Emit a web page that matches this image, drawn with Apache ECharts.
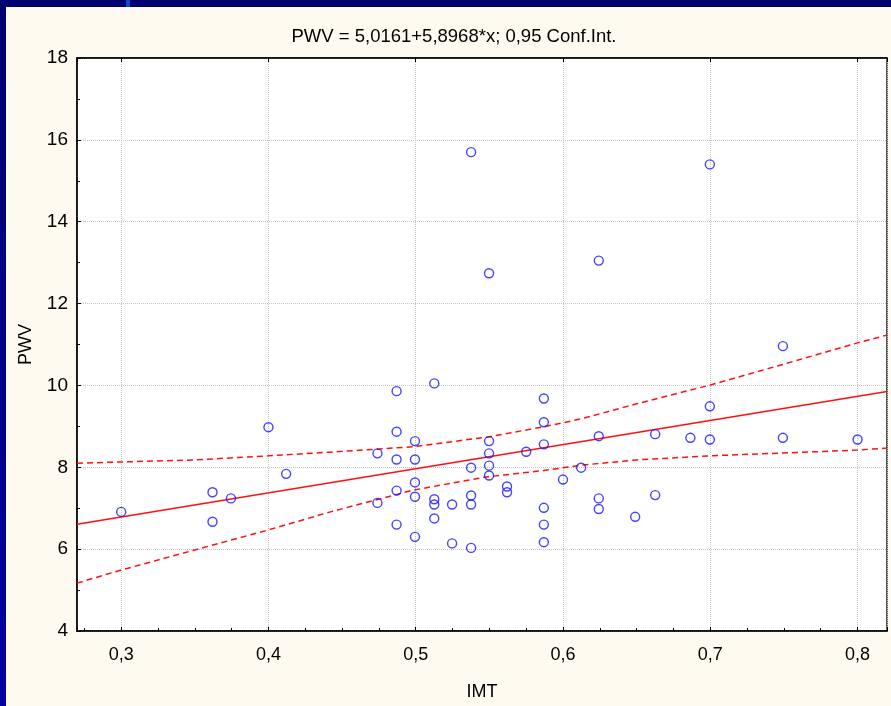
<!DOCTYPE html>
<html>
<head>
<meta charset="utf-8">
<script src="https://cdn.jsdelivr.net/npm/echarts@6/dist/echarts.min.js"></script>
<style>
html,body{margin:0;padding:0;background:#000072;}
#chart{width:891px;height:706px;}
</style>
</head>
<body>
<div id="chart"></div>
<script>
// ---- data ----
const titleText = 'PWV = 5,0161+5,8968*x; 0,95 Conf.Int.';
const xName = 'IMT';
const yName = 'PWV';

const imt = [0.300, 0.362, 0.362, 0.3745, 0.400, 0.412,
  0.474, 0.474, 0.487, 0.487, 0.487, 0.487, 0.487,
  0.4995, 0.4995, 0.4995, 0.4995, 0.4995,
  0.5126, 0.5126, 0.5126, 0.5126, 0.5247, 0.5247,
  0.5376, 0.5376, 0.5376, 0.5376, 0.5376,
  0.5498, 0.5498, 0.5498, 0.5498, 0.5498,
  0.562, 0.562, 0.575,
  0.587, 0.587, 0.587, 0.587, 0.587, 0.587,
  0.600, 0.6123,
  0.6243, 0.6243, 0.6243, 0.6243,
  0.649, 0.6626, 0.6626, 0.6865,
  0.6997, 0.6997, 0.6997,
  0.7493, 0.7493, 0.800];
const pwv = [6.91, 7.39, 6.67, 7.24, 8.98, 7.84,
  8.34, 7.13, 9.86, 8.87, 8.19, 7.43, 6.60,
  8.64, 8.19, 7.63, 7.28, 6.30,
  10.05, 7.22, 7.09, 6.75, 7.09, 6.14,
  15.70, 7.99, 7.31, 7.09, 6.03,
  12.74, 8.64, 8.34, 8.04, 7.80,
  7.53, 7.39, 8.38,
  9.68, 9.10, 8.56, 7.01, 6.60, 6.17,
  7.70, 7.99,
  13.05, 8.76, 7.24, 6.98,
  6.79, 8.81, 7.32, 8.72,
  15.40, 9.49, 8.68,
  10.96, 8.72, 8.68];

const fitX = [0.27, 0.82];
const fitY = [6.61, 9.85];

const bandX = [0.27, 0.30, 0.35, 0.40, 0.442, 0.498, 0.549, 0.587, 0.612, 0.65, 0.70, 0.75, 0.80, 0.82];
const bandUpper = [8.10, 8.13, 8.18, 8.28, 8.37, 8.50, 8.74, 8.99, 9.18, 9.55, 10.01, 10.52, 11.04, 11.23];
const bandLower = [5.17, 5.49, 5.98, 6.47, 6.91, 7.44, 7.77, 7.92, 8.05, 8.18, 8.28, 8.35, 8.42, 8.47];

const xMin = 0.27, xMax = 0.82;
const yMin = 4, yMax = 18, yStep = 2;

// ---- build ----
const zip = (a, b) => a.map((v, i) => [v, b[i]]);
const fmt = v => v.toFixed(1).replace('.', ',');
const FONT = '"Liberation Sans", Arial, sans-serif';

const chart = echarts.init(document.getElementById('chart'), null, {renderer: 'canvas'});
chart.setOption({
  animation: false,
  backgroundColor: '#000072',
  graphic: [
    {type: 'rect', left: 0, top: 0, z: -10, shape: {width: 6, height: 706},
      style: {fill: new echarts.graphic.LinearGradient(0, 0, 0, 1, [{offset: 0, color: '#000070'}, {offset: 1, color: '#0000a0'}])}, silent: true},
    {type: 'rect', left: 6, top: 7, z: -10, shape: {width: 885, height: 699}, style: {fill: '#fffaef'}, silent: true},
    {type: 'rect', left: 126, top: 0, z: -10, shape: {width: 4, height: 7}, style: {fill: '#0a4ad4'}, silent: true}
  ],
  title: {
    text: titleText, left: 449, top: 22, textAlign: 'center',
    textStyle: {fontFamily: FONT, fontSize: 18.5, fontWeight: 'normal', color: '#000'}
  },
  grid: {left: 77, top: 58, right: 4, bottom: 75, show: true, backgroundColor: '#ffffff',
    borderColor: '#222', borderWidth: 1.5, containLabel: false},
  xAxis: [{
    type: 'value', min: xMin, max: xMax, splitNumber: 5,
    name: xName, nameLocation: 'middle', nameGap: 52,
    nameTextStyle: {fontFamily: FONT, fontSize: 18, color: '#000'},
    axisLine: {show: true, onZero: false, lineStyle: {color: '#000', width: 1.5}},
    axisTick: {show: true, inside: true, length: 4, lineStyle: {color: '#000'}},
    minorTick: {show: true, splitNumber: 4, length: 3, lineStyle: {color: '#000'}},
    axisLabel: {fontFamily: FONT, fontSize: 18, color: '#000', margin: 15, formatter: fmt,
      showMinLabel: false, showMaxLabel: false},
    splitLine: {show: true, lineStyle: {color: '#c4c4c4', type: 'dotted', width: 1}}
  }, {
    type: 'value', min: xMin, max: xMax, splitNumber: 5, position: 'top',
    axisLine: {show: true, onZero: false, lineStyle: {color: '#000', width: 1.5}},
    axisTick: {show: true, inside: true, length: 4, lineStyle: {color: '#000'}},
    axisLabel: {show: false}, splitLine: {show: false}
  }],
  yAxis: {
    type: 'value', min: yMin, max: yMax, interval: yStep,
    name: yName, nameLocation: 'middle', nameGap: 42, nameRotate: 90,
    nameTextStyle: {fontFamily: FONT, fontSize: 18, color: '#000'},
    axisLine: {show: true, onZero: false, lineStyle: {color: '#000', width: 1.5}},
    axisTick: {show: true, inside: true, length: 4, lineStyle: {color: '#000'}},
    minorTick: {show: true, splitNumber: 2, length: 3, lineStyle: {color: '#000'}},
    axisLabel: {fontFamily: FONT, fontSize: 19, color: '#000', margin: 9},
    splitLine: {show: true, lineStyle: {color: '#c4c4c4', type: 'dotted', width: 1}}
  },
  series: [
    {type: 'line', data: zip(bandX, bandUpper), showSymbol: false, symbol: 'none',
      lineStyle: {color: '#ff1010', width: 1.5, type: [6, 4]}, z: 3},
    {type: 'line', data: zip(bandX, bandLower), showSymbol: false, symbol: 'none',
      lineStyle: {color: '#ff1010', width: 1.5, type: [6, 4]}, z: 3},
    {type: 'line', data: zip(fitX, fitY), showSymbol: false, symbol: 'none',
      lineStyle: {color: '#ff1010', width: 1.5}, z: 3},
    {type: 'scatter', data: zip(imt, pwv), symbol: 'circle', symbolSize: 9,
      itemStyle: {color: 'rgba(0,0,0,0)', borderColor: '#1414ff', borderWidth: 1.4}, z: 5}
  ]
});
</script>
</body>
</html>
